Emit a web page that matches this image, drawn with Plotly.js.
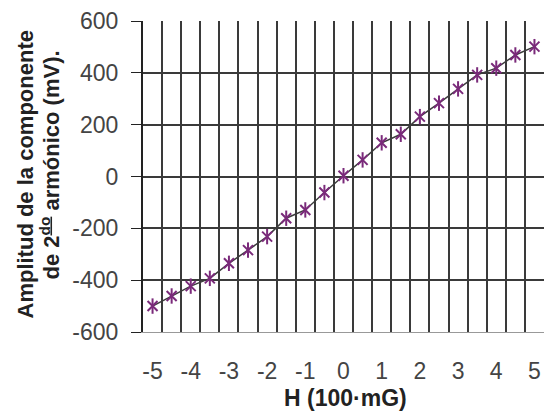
<!DOCTYPE html>
<html>
<head>
<meta charset="utf-8">
<script src="https://cdn.plot.ly/plotly-3.0.1.min.js"></script>
<style>
html,body{margin:0;padding:0;background:#fff;}
#chart{width:545px;height:411px;}
</style>
</head>
<body>
<div id="chart"></div>
<script>
// Data
var fieldH = [-5, -4.5, -4, -3.5, -3, -2.5, -2, -1.5, -1, -0.5, 0, 0.5, 1, 1.5, 2, 2.5, 3, 3.5, 4, 4.5, 5];
var amplitude = [-500, -461, -423, -393, -335, -284, -232, -161, -129, -62, 3, 64, 130, 163, 231, 283, 338, 392, 418, 469, 501];

var xTickVals = [-5, -4, -3, -2, -1, 0, 1, 2, 3, 4, 5];
var xTickText = ["-5", "-4", "-3", "-2", "-1", "0", "1", "2", "3", "4", "5"];
var yTickVals = [-600, -400, -200, 0, 200, 400, 600];
var yTickText = ["-600", "-400", "-200", "0", "200", "400", "600"];

var xTitle = "H (100\u00B7mG)";
var yTitleLine1 = "Amplitud de la componente";
var yTitleLine2 = "de 2<sup><u>do</u></sup> armónico (mV).";

// category boundaries (Excel-style category axis look)
var half = (fieldH[1] - fieldH[0]) / 2;
var boundaries = fieldH.map(function (v) { return v - half; });
boundaries.push(fieldH[fieldH.length - 1] + half);

var purple = '#7a2a7a';
var traces = [
  {
    x: fieldH, y: amplitude, type: 'scatter', mode: 'lines+markers',
    line: {color: '#3c3c3c', width: 1.5},
    marker: {symbol: 'x-thin-open', size: 10, color: purple, line: {color: purple, width: 2}},
    hoverinfo: 'x+y', showlegend: false
  },
  {
    x: fieldH, y: amplitude, type: 'scatter', mode: 'markers',
    marker: {symbol: 'line-ns-open', size: 11, color: purple, line: {color: purple, width: 2}},
    hoverinfo: 'skip', showlegend: false
  }
];

var fam = 'Liberation Sans, Arial, sans-serif';
var tickFont = {family: fam, size: 23, color: '#444'};
var titleFont = {family: fam, size: 22, color: '#222'};

var layout = {
  width: 545, height: 411,
  margin: {l: 143, r: 1, t: 21, b: 79},
  paper_bgcolor: '#fff', plot_bgcolor: '#fff',
  showlegend: false,
  xaxis: {
    range: [boundaries[0], boundaries[boundaries.length - 1]],
    tickmode: 'array', tickvals: xTickVals, ticktext: xTickText,
    showgrid: false, zeroline: false,
    ticks: '', ticklabelstandoff: 18,
    tickfont: tickFont,
    showline: true, linecolor: '#999', linewidth: 1,
    minor: {tickmode: 'array', tickvals: boundaries, showgrid: true, gridcolor: '#3a3a3a', gridwidth: 2, ticks: ''},
    fixedrange: true
  },
  yaxis: {
    range: [-600, 600],
    tickmode: 'array', tickvals: yTickVals, ticktext: yTickText,
    showgrid: true, gridcolor: '#3a3a3a', gridwidth: 2,
    zeroline: false,
    ticks: 'outside', ticklen: 10, tickcolor: '#222', tickwidth: 1,
    ticklabelstandoff: 8,
    tickfont: tickFont,
    showline: true, linecolor: '#222', linewidth: 2,
    fixedrange: true
  },
  annotations: [
    {text: '<b>' + xTitle + '</b>', xref: 'paper', yref: 'paper', x: 0.5, y: 0,
     xanchor: 'center', yanchor: 'middle', xshift: 2, yshift: -66,
     showarrow: false, font: {family: fam, size: 23, color: '#222'}},
    {text: '<b>' + yTitleLine1 + '</b>', xref: 'paper', yref: 'paper', x: 0, y: 0.5,
     xanchor: 'center', yanchor: 'middle', xshift: -118, yshift: 2, textangle: -90,
     showarrow: false, font: titleFont},
    {text: '<b>' + yTitleLine2 + '</b>', xref: 'paper', yref: 'paper', x: 0, y: 0.5,
     xanchor: 'center', yanchor: 'middle', xshift: -94, yshift: 11, textangle: -90,
     showarrow: false, font: titleFont}
  ]
};

Plotly.newPlot('chart', traces, layout, {displayModeBar: false, staticPlot: true});
</script>
</body>
</html>
